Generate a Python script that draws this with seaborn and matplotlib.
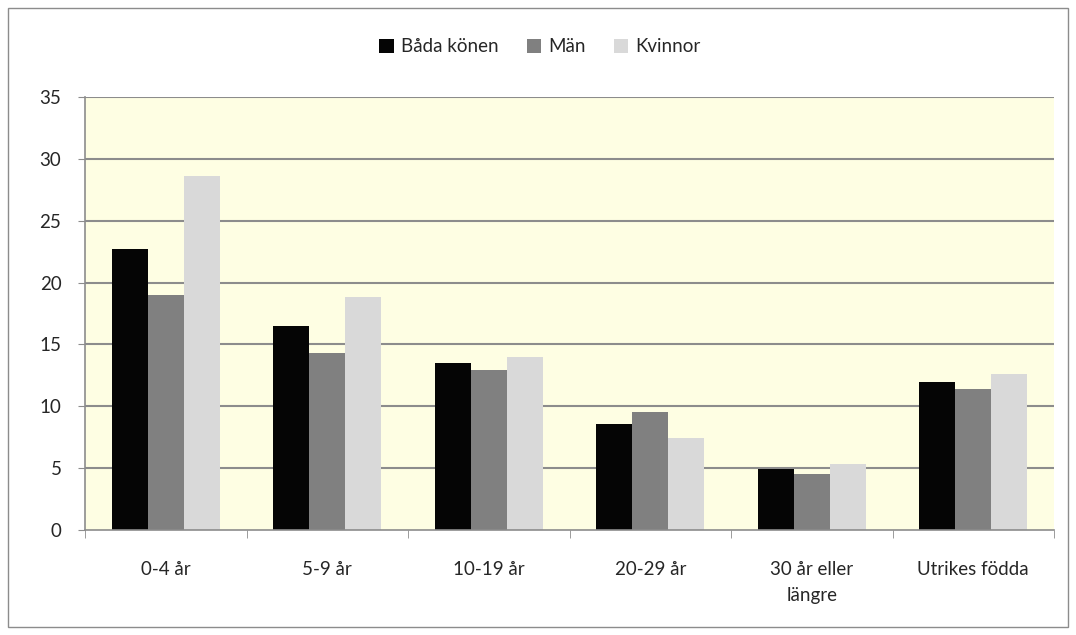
import matplotlib
matplotlib.use("Agg")
import matplotlib.pyplot as plt
import pandas as pd
import seaborn as sns
from matplotlib.patches import Rectangle

categories = ["0-4 år", "5-9 år", "10-19 år", "20-29 år", "30 år eller\nlängre", "Utrikes födda"]
bada = [22.7, 16.5, 13.5, 8.6, 4.9, 12.0]
man = [19.0, 14.3, 12.9, 9.5, 4.5, 11.4]
kvinnor = [28.6, 18.8, 14.0, 7.4, 5.3, 12.6]
series = ["Båda könen", "Män", "Kvinnor"]

df = pd.DataFrame({"kategori": categories, series[0]: bada, series[1]: man, series[2]: kvinnor})
long_df = df.melt(id_vars="kategori", var_name="serie", value_name="varde")

sns.set_style("white")
plt.rcParams["font.family"] = ["Lato", "DejaVu Sans"]
fs = 13.5

fig = plt.figure(figsize=(10.76, 6.35), dpi=100)
ax = fig.add_axes([0.079, 0.1654, 0.9006, 0.6816])
ax.set_facecolor("#FEFEE3")

# horizontal gridlines behind bars
for v in range(5, 40, 5):
    ax.axhline(v, color="#8C8C8C", lw=1.5, zorder=0)

sns.barplot(data=long_df, x="kategori", y="varde", hue="serie",
            palette=["#050505", "#808080", "#D9D9D9"], saturation=1,
            width=0.67, ax=ax, zorder=2, linewidth=0, legend=True)

ax.set_ylim(0, 35)
ax.set_xlim(-0.5, 5.5)
ax.set_yticks(range(0, 40, 5))
ax.set_xlabel("")
ax.set_ylabel("")

for s in ["top", "right"]:
    ax.spines[s].set_visible(False)
ax.spines["left"].set_color("#8C8C8C")
ax.spines["bottom"].set_color("#8C8C8C")
ax.spines["left"].set_linewidth(1.2)
ax.spines["bottom"].set_linewidth(1.2)

ax.tick_params(axis="y", length=5, color="#8C8C8C", labelsize=fs, pad=12, left=True)
ax.tick_params(axis="x", length=0, labelsize=fs, pad=22)
for lbl in ax.get_xticklabels():
    lbl.set_linespacing(1.7)
# tick marks at category boundaries
ax.set_xticks([i - 0.5 for i in range(7)], minor=True)
ax.tick_params(axis="x", which="minor", length=6, color="#8C8C8C", bottom=True)

leg = ax.legend(loc="center", bbox_to_anchor=(0.502, 0.926), bbox_transform=fig.transFigure,
                ncol=3, frameon=False, fontsize=fs, handlelength=0.75, handleheight=0.75,
                handletextpad=0.4, columnspacing=1.5)

fig.patches.append(Rectangle((0.0075, 0.0125), 0.985, 0.975, transform=fig.transFigure,
                             fill=False, edgecolor="#8C8C8C", lw=1))

fig.savefig("out.png", dpi=100)
